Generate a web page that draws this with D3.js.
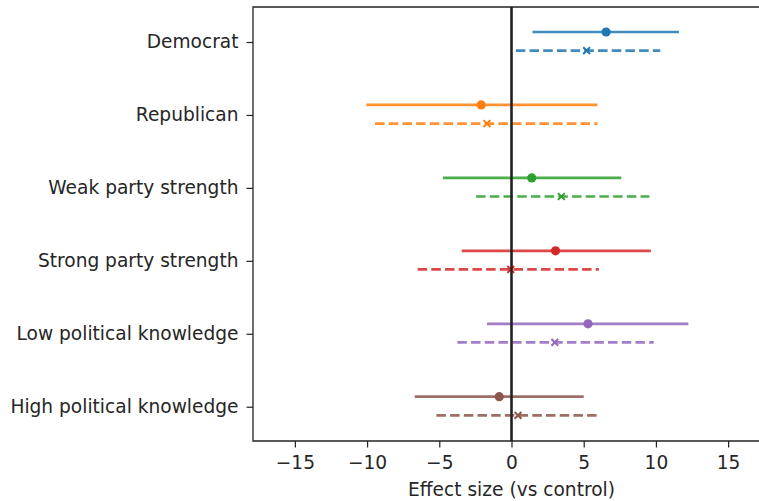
<!DOCTYPE html>
<html><head><meta charset="utf-8">
<script src="https://cdn.jsdelivr.net/npm/d3@7"></script>
<style>body{margin:0;background:#fff;} svg{display:block;} text{font-family:"DejaVu Sans",sans-serif;}</style>
</head><body><svg id="c" width="759" height="501"></svg>
<script>
const categories = ["Democrat","Republican","Weak party strength","Strong party strength","Low political knowledge","High political knowledge"];
const colors = ["#1f77b4","#ff7f0e","#2ca02c","#d62728","#9467bd","#8c564b"];
// solid series (circle markers)
const solidEst = [6.55, -2.1, 1.4, 3.05, 5.3, -0.85];
const solidLo  = [1.45, -10.05, -4.75, -3.45, -1.7, -6.7];
const solidHi  = [11.6, 5.95, 7.6, 9.65, 12.25, 5.0];
// dashed series (x markers)
const dashEst = [5.2, -1.7, 3.45, -0.05, 3.0, 0.45];
const dashLo  = [0.3, -9.45, -2.45, -6.5, -3.75, -5.2];
const dashHi  = [10.3, 5.95, 9.55, 6.05, 9.85, 6.1];
const xTicks = [-15,-10,-5,0,5,10,15];
const xLabel = "Effect size (vs control)";

const svg = d3.select("#c");
const L = 253, R = 770, T = 7, B = 441;
const x = d3.scaleLinear().domain([-17.9, 17.9]).range([L, R]);
const y = d3.scaleLinear().domain([-0.48, 5.47]).range([T, B]);
const offSolid = -0.137, offDash = 0.118;
const FS = "18.6px";

const g = svg.append("g");
categories.forEach((c,i)=>{
  const col = colors[i];
  const ys = y(i+offSolid), yd = y(i+offDash);
  g.append("line").attr("x1",x(solidLo[i])).attr("x2",x(solidHi[i])).attr("y1",ys).attr("y2",ys)
    .attr("stroke",col).attr("stroke-width",2.7).attr("opacity",0.85);
  g.append("circle").attr("cx",x(solidEst[i])).attr("cy",ys).attr("r",4.6).attr("fill",col);
  g.append("line").attr("x1",x(dashLo[i])).attr("x2",x(dashHi[i])).attr("y1",yd).attr("y2",yd)
    .attr("stroke",col).attr("stroke-width",2.7).attr("stroke-dasharray","9.5,4.2").attr("opacity",0.85);
  const mx = x(dashEst[i]), s = 3.4;
  g.append("path").attr("d",`M${mx-s},${yd-s}L${mx+s},${yd+s}M${mx-s},${yd+s}L${mx+s},${yd-s}`)
    .attr("stroke",col).attr("stroke-width",2).attr("fill","none");
});

// zero line
svg.append("line").attr("x1",x(0)).attr("x2",x(0)).attr("y1",T).attr("y2",B)
  .attr("stroke","#222").attr("stroke-width",2.6);

// axes
const xa = svg.append("g").attr("transform",`translate(0,${B})`)
  .call(d3.axisBottom(x).tickValues(xTicks).tickSize(6.5).tickPadding(8).tickFormat(d=>d<0?"\u2212"+Math.abs(d):d));
const ya = svg.append("g").attr("transform",`translate(${L},0)`)
  .call(d3.axisLeft(y).tickValues(d3.range(categories.length)).tickSize(6.5).tickPadding(8).tickFormat(i=>categories[i]));
[xa,ya].forEach(a=>{
  a.select(".domain").remove();
  a.selectAll(".tick line").attr("stroke","#222").attr("stroke-width",1.2);
  a.selectAll(".tick text").attr("fill","#262626").style("font-size",FS).style("font-family","DejaVu Sans");
});
// frame (left, top, bottom; right beyond view)
svg.append("path").attr("d",`M${R},${T}H${L}V${B}H${R}`).attr("fill","none").attr("stroke","#222").attr("stroke-width",1.3);

svg.append("text").attr("x",x(0)).attr("y",496).attr("text-anchor","middle")
  .attr("fill","#262626").style("font-size",FS).text(xLabel);
</script></body></html>
